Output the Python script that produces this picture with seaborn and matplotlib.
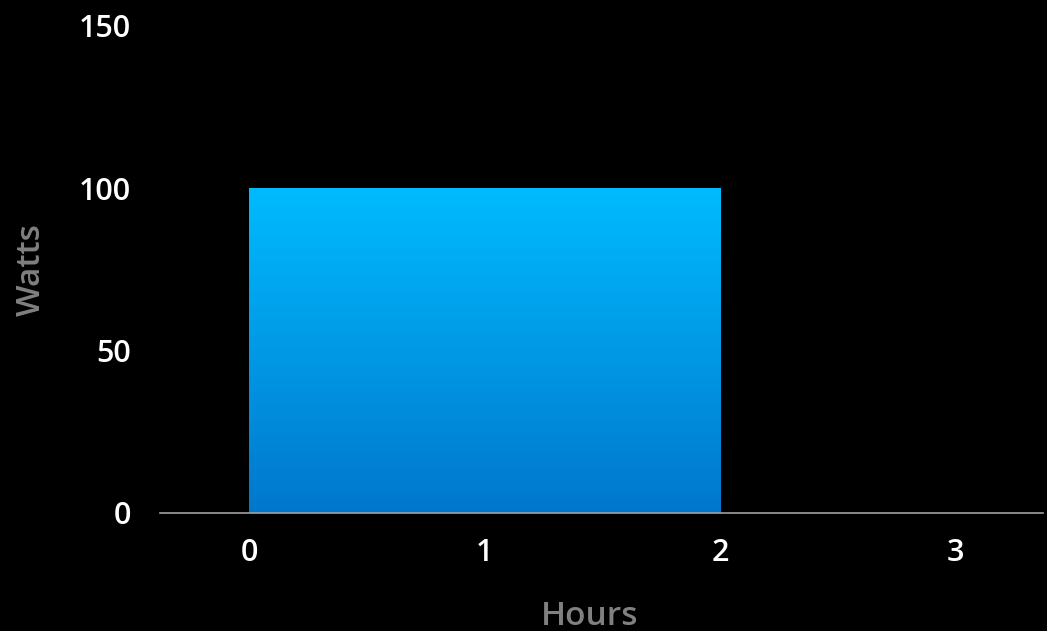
import numpy as np
import matplotlib
matplotlib.use("Agg")
import matplotlib.pyplot as plt
from matplotlib.colors import LinearSegmentedColormap
import seaborn as sns

# Power draw: 100 W held from hour 0 to hour 2
bin_edges = [0, 2]
hour_mid = [1]
watts = [100]
x_ticks = [0, 1, 2, 3]
y_ticks = [0, 50, 100, 150]

sns.set_theme(style="dark")
plt.rcParams["font.family"] = ["Open Sans", "DejaVu Sans"]

fig = plt.figure(figsize=(10.47, 6.31), dpi=100, facecolor="black")
ax = fig.add_axes([160 / 1047, 118 / 631, 883 / 1047, (513 - 25.5) / 631])
ax.set_facecolor("black")

sns.histplot(x=hour_mid, weights=watts, bins=bin_edges, ax=ax,
             color="#0099e6", edgecolor="none", alpha=1.0, linewidth=0)

# vertical gradient fill, clipped to each bar
grad = LinearSegmentedColormap.from_list("blue", ["#0077cc", "#00bbff"])
for p in ax.patches:
    x0, y0 = p.get_x(), p.get_y()
    w, h = p.get_width(), p.get_height()
    img = ax.imshow(np.linspace(0, 1, 256).reshape(-1, 1), cmap=grad,
                    origin="lower", aspect="auto",
                    extent=[x0, x0 + w, y0, y0 + h], zorder=p.get_zorder() + 0.1)
    img.set_clip_path(p)

ax.set_xlim(-0.378, 3.37)
ax.set_ylim(0, 150)
ax.set_xticks(x_ticks)
ax.set_yticks(y_ticks)
ax.grid(False)

for s in ["left", "top", "right"]:
    ax.spines[s].set_visible(False)
ax.spines["bottom"].set_color("#a0a0a0")
ax.spines["bottom"].set_linewidth(1.2)

ax.tick_params(axis="both", length=0, colors="white", labelsize=22)
ax.tick_params(axis="y", pad=21)
ax.tick_params(axis="x", pad=18)
for lab in ax.get_xticklabels() + ax.get_yticklabels():
    lab.set_fontweight("semibold")
    lab.set_clip_on(False)

ax.set_xlabel("Hours", color="#808080", fontsize=24, fontweight="semibold")
ax.set_ylabel("Watts", color="#808080", fontsize=24, fontweight="semibold")
ax.xaxis.set_label_coords((590 - 160) / 883, -0.178)
ax.yaxis.set_label_coords((48 - 160) / 883, 0.5)

fig.savefig("out.png", dpi=100, facecolor="black")
